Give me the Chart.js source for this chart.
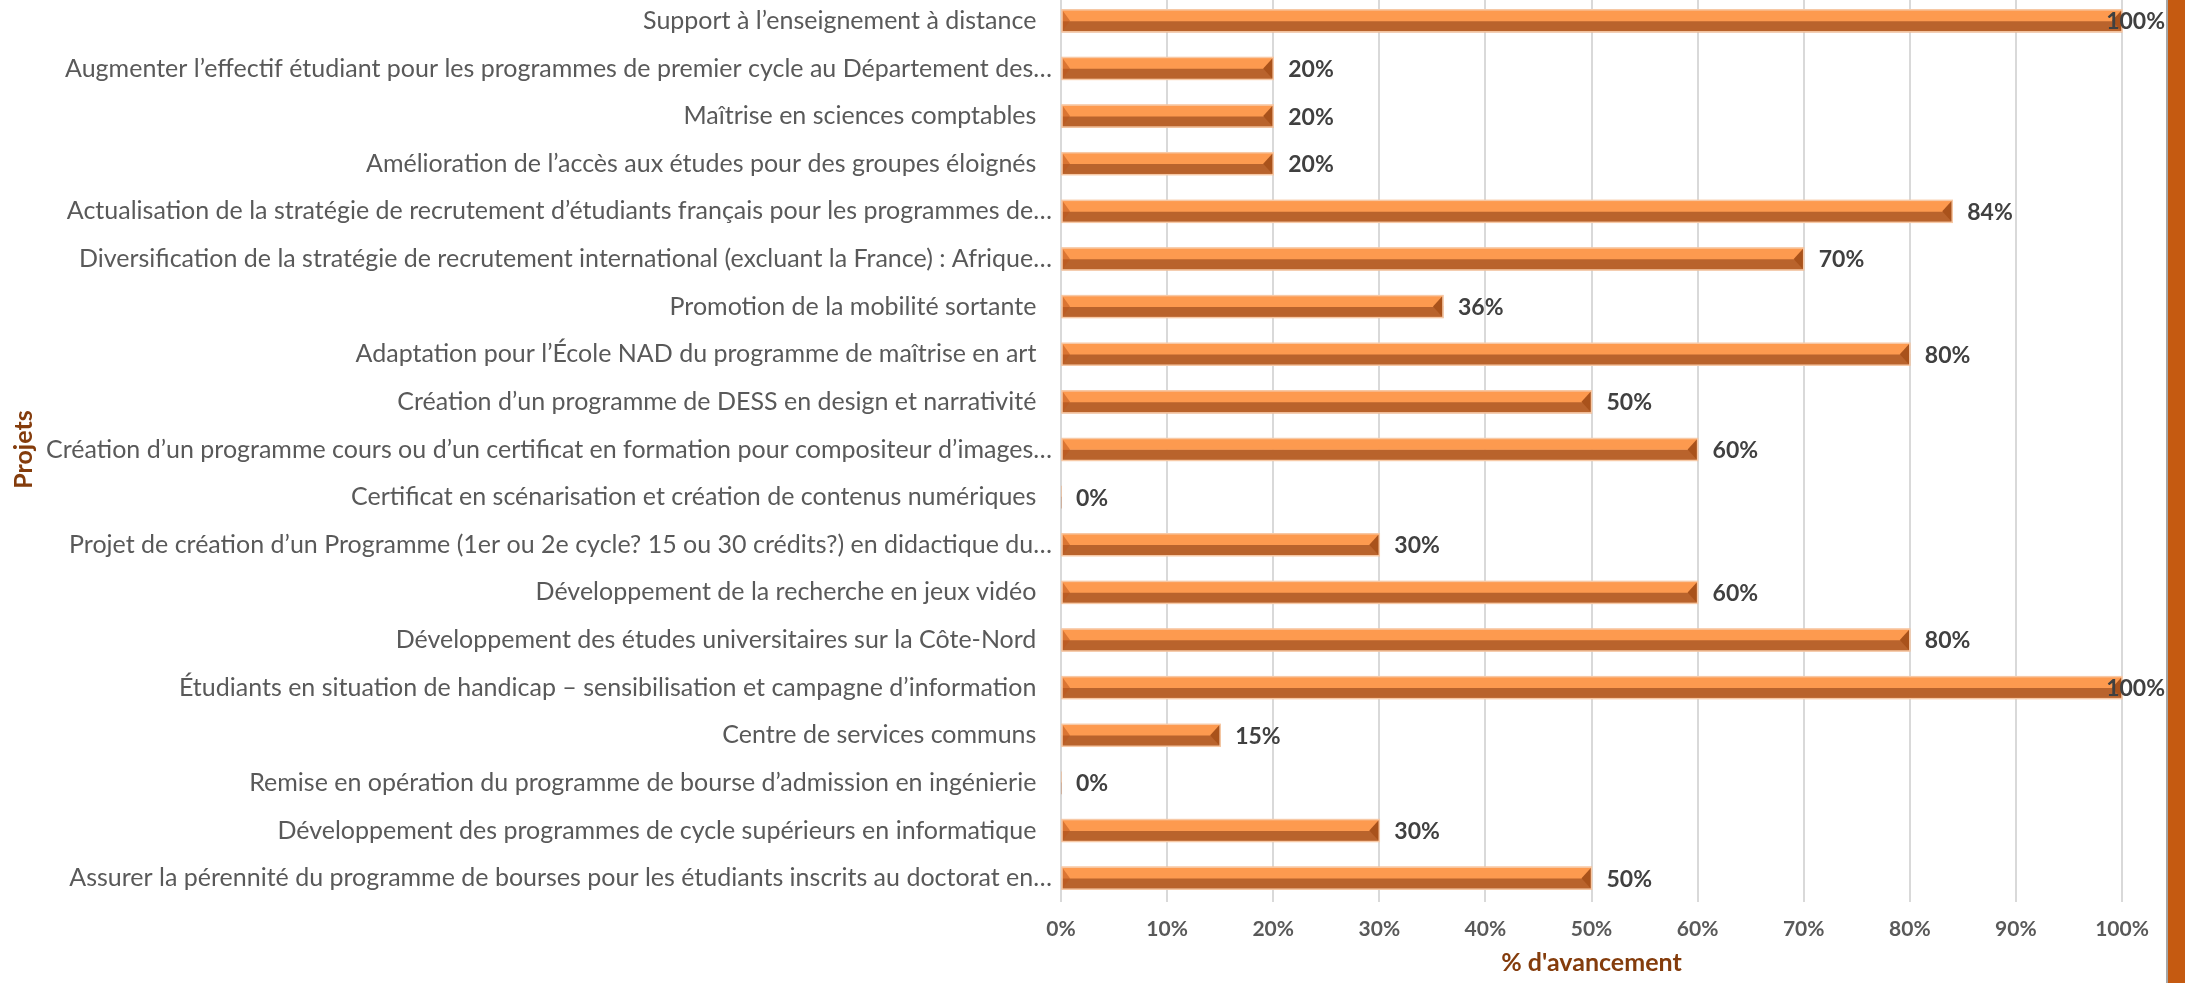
<!DOCTYPE html>
<html>
<head>
<meta charset="utf-8">
<script src="https://cdn.jsdelivr.net/npm/chart.js@4"></script>
<style>
  body { margin: 0; background: #fff; overflow: hidden; }
  #wrap { position: absolute; left: 0; top: -3px; width: 2166px; height: 986px; }
  #edge-line { position: absolute; left: 2166px; top: 0; width: 2px; height: 983px; background: #a6a6a6; }
  #edge { position: absolute; left: 2168px; top: 0; width: 17px; height: 983px; background: #c55a11; }
</style>
</head>
<body>
<div id="wrap"><canvas id="chart"></canvas></div>
<div id="edge-line"></div>
<div id="edge"></div>
<script>
const projets = [
  'Support à l’enseignement à distance',
  'Augmenter l’effectif étudiant pour les programmes de premier cycle au Département des…',
  'Maîtrise en sciences comptables',
  'Amélioration de l’accès aux études pour des groupes éloignés',
  'Actualisation de la stratégie de recrutement d’étudiants français pour les programmes de…',
  'Diversification de la stratégie de recrutement international (excluant la France) : Afrique…',
  'Promotion de la mobilité sortante',
  'Adaptation pour l’École NAD du programme de maîtrise en art',
  'Création d’un programme de DESS en design et narrativité',
  'Création d’un programme cours ou d’un certificat en formation pour compositeur d’images…',
  'Certificat en scénarisation et création de contenus numériques',
  'Projet de création d’un Programme (1er ou 2e cycle? 15 ou 30 crédits?) en didactique du…',
  'Développement de la recherche en jeux vidéo',
  'Développement des études universitaires sur la Côte-Nord',
  'Étudiants en situation de handicap – sensibilisation et campagne d’information',
  'Centre de services communs',
  'Remise en opération du programme de bourse d’admission en ingénierie',
  'Développement des programmes de cycle supérieurs en informatique',
  'Assurer la pérennité du programme de bourses pour les étudiants inscrits au doctorat en…'
];

const avancement = [100, 20, 20, 20, 84, 70, 36, 80, 50, 60, 0, 30, 60, 80, 100, 15, 0, 30, 50];

const xTicks = [0, 10, 20, 30, 40, 50, 60, 70, 80, 90, 100];

const FONT = 'Lato, "Open Sans", sans-serif';

// bevel ends, outline and value labels, drawn from the bar elements
const barDeco = {
  id: 'barDeco',
  afterDatasetsDraw(chart) {
    const ctx = chart.ctx;
    const top = chart.getDatasetMeta(0).data;
    const bottom = chart.getDatasetMeta(1).data;
    ctx.save();
    top.forEach((el, i) => {
      const lo = bottom[i];
      const y0 = el.y - el.height / 2;
      const y1 = lo.y + lo.height / 2;
      const ym = (y0 + y1) / 2;
      const x0 = el.base;
      const x1 = el.x;
      if (x1 - x0 > 1) {
        ctx.fillStyle = 'rgba(190, 88, 30, 0.55)';
        ctx.beginPath();
        ctx.moveTo(x0, y0); ctx.lineTo(x0 + 8, ym); ctx.lineTo(x0, y1); ctx.closePath();
        ctx.fill();
        ctx.fillStyle = '#a9521b';
        ctx.beginPath();
        ctx.moveTo(x1, y0); ctx.lineTo(x1 - 10, ym); ctx.lineTo(x1, y1); ctx.closePath();
        ctx.fill();
        ctx.strokeStyle = '#f7c9a6';
        ctx.lineWidth = 1.5;
        ctx.strokeRect(x0, y0, x1 - x0, y1 - y0);
      }
      const txt = avancement[i] + '%';
      ctx.font = 'bold 23px ' + FONT;
      ctx.fillStyle = '#404040';
      ctx.textBaseline = 'middle';
      const w = ctx.measureText(txt).width;
      let tx = x1 + 15;
      if (tx + w > chart.width - 1) tx = chart.width - 1 - w;
      ctx.fillText(txt, tx, ym + 1);
    });
    ctx.restore();
  }
};

new Chart(document.getElementById('chart'), {
  type: 'bar',
  data: {
    labels: projets,
    datasets: [
      { data: avancement, backgroundColor: '#fd9a4f', barThickness: 11 },
      { data: avancement, backgroundColor: '#b9632c', barThickness: 11 }
    ]
  },
  options: {
    indexAxis: 'y',
    responsive: true,
    maintainAspectRatio: false,
    animation: false,
    layout: { padding: { left: 0, right: 44, top: 0, bottom: 0 } },
    plugins: { legend: { display: false }, tooltip: { enabled: false } },
    scales: {
      x: {
        min: 0,
        max: 100,
        afterBuildTicks: (scale) => { scale.ticks = xTicks.map(v => ({ value: v })); },
        afterFit: (scale) => {
          scale.height = 81;
          scale.paddingLeft = 0;
          scale.paddingRight = 0;
        },
        grid: { color: '#d9d9d9', lineWidth: 2, drawTicks: false },
        border: { display: false },
        ticks: {
          callback: (v) => v + '%',
          color: '#595959',
          font: { family: FONT, size: 21, weight: 'bold' },
          padding: 15,
          maxRotation: 0
        },
        title: {
          display: true,
          text: "% d'avancement",
          color: '#843c0c',
          font: { family: FONT, size: 25, weight: 'bold' },
          padding: { top: 4, bottom: 5 }
        }
      },
      y: {
        afterFit: (scale) => {
          scale.width = 1061;
          scale.paddingTop = 0;
          scale.paddingBottom = 0;
        },
        grid: { display: false, drawTicks: false },
        border: { display: false },
        ticks: {
          color: '#595959',
          font: { family: FONT, size: 25 },
          padding: 9,
          autoSkip: false,
          // untruncated names sit a little further from the axis than the truncated ones
          callback: function (v) {
            const name = this.getLabelForValue(v);
            return name.endsWith('…') ? name : name + '\u2002\u2009';
          }
        },
        title: {
          display: true,
          text: 'Projets',
          color: '#843c0c',
          font: { family: FONT, size: 25, weight: 'bold' },
          padding: { top: 9, bottom: 0 }
        }
      }
    }
  },
  plugins: [barDeco]
});
</script>
</body>
</html>
